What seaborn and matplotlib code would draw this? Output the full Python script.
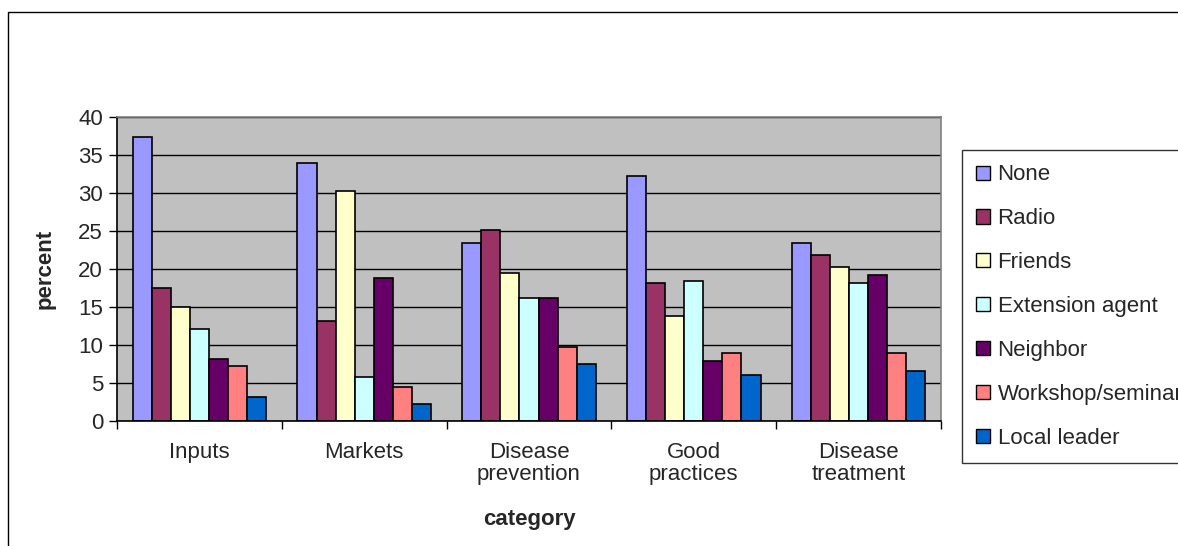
import pandas as pd
import matplotlib.pyplot as plt
import seaborn as sns
from matplotlib.patches import Rectangle

# Data
categories = ["Inputs", "Markets", "Disease\nprevention", "Good\npractices", "Disease\ntreatment"]
sources = ["None", "Radio", "Friends", "Extension agent", "Neighbor", "Workshop/seminar", "Local leader"]
none_vals = [37.4, 34.0, 23.4, 32.3, 23.4]
radio_vals = [17.5, 13.1, 25.1, 18.2, 21.8]
friends_vals = [15.0, 30.3, 19.5, 13.8, 20.3]
extension_vals = [12.1, 5.8, 16.2, 18.4, 18.2]
neighbor_vals = [8.2, 18.8, 16.2, 7.9, 19.2]
workshop_vals = [7.3, 4.5, 9.7, 8.9, 8.9]
leader_vals = [3.2, 2.3, 7.5, 6.0, 6.6]
colors = ["#9999FF", "#993366", "#FFFFCC", "#CCFFFF", "#660066", "#FF8080", "#0066CC"]

series = [none_vals, radio_vals, friends_vals, extension_vals, neighbor_vals, workshop_vals, leader_vals]
rows = []
for src, vals in zip(sources, series):
    for cat, v in zip(categories, vals):
        rows.append({"category": cat, "source": src, "percent": v})
df = pd.DataFrame(rows)

sns.set_style("white")
plt.rcParams['font.family'] = ['Liberation Sans', 'DejaVu Sans']
FS = 16

fig = plt.figure(figsize=(11.78, 5.46), dpi=100)
W, H = 1178, 546
ax = fig.add_axes([117 / W, (H - 421) / H, (941 - 117) / W, (421 - 117) / H])
ax.set_facecolor("#C0C0C0")

sns.barplot(data=df, x="category", y="percent", hue="source", order=categories,
            hue_order=sources, palette=colors, saturation=1, width=0.81, gap=0,
            edgecolor="black", linewidth=1.2, ax=ax, legend=True)

ax.set_ylim(0, 40)
ax.set_xlim(-0.5, len(categories) - 0.5)
ax.set_yticks(range(0, 41, 5))
ax.yaxis.grid(True, color="black", linewidth=1)
ax.set_axisbelow(True)
ax.tick_params(axis="y", direction="out", length=6, width=1, color="black", labelsize=FS, left=True, pad=4)
ax.tick_params(axis="x", which="major", length=0, labelsize=FS, pad=15)
ax.set_xticks([i - 0.5 for i in range(len(categories) + 1)], minor=True)
ax.tick_params(axis="x", which="minor", direction="out", length=6, width=1, color="black", bottom=True)
for lbl in ax.get_xticklabels():
    lbl.set_linespacing(1.1)

for side in ["top", "right"]:
    ax.spines[side].set_color("#808080")
    ax.spines[side].set_linewidth(1.2)
for side in ["left", "bottom"]:
    ax.spines[side].set_color("black")
    ax.spines[side].set_linewidth(1.2)

ax.set_ylabel("percent", fontsize=FS, fontweight="bold", labelpad=16)
ax.set_xlabel("category", fontsize=FS, fontweight="bold", labelpad=17)

leg = ax.legend(loc="upper left", bbox_to_anchor=(962 / W, (H - 150) / H), bbox_transform=fig.transFigure,
                frameon=True, fancybox=False, edgecolor="black", fontsize=FS,
                handlelength=0.6, handleheight=0.6, handletextpad=0.35, labelspacing=1.03,
                borderpad=0.65, borderaxespad=0)
leg.get_frame().set_linewidth(1)
for h in leg.legend_handles:
    h.set_edgecolor("black")
    h.set_linewidth(1)

# Outer chart border
fig.patches.append(Rectangle((8 / W, -0.1), 1.2, (H - 12) / H + 0.1, transform=fig.transFigure,
                             fill=False, edgecolor="black", linewidth=1, zorder=-1))

fig.savefig("out.png", dpi=100)
